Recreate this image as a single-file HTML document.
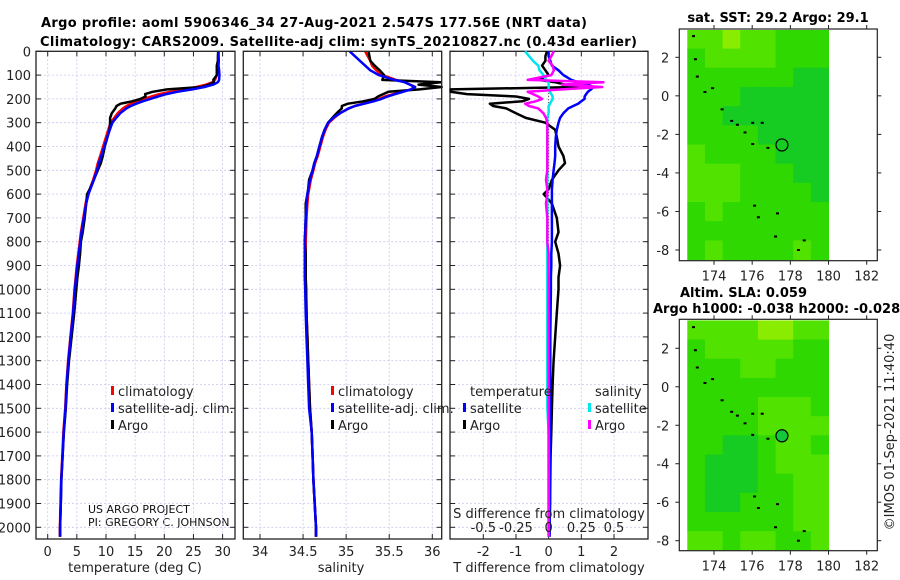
<!DOCTYPE html>
<html><head><meta charset="utf-8"><style>
html,body{margin:0;padding:0;background:#fff}
svg{display:block;font-family:"DejaVu Sans","Liberation Sans",sans-serif}
</style></head><body>
<svg id="chart" width="900" height="580" viewBox="0 0 900 580">
<g id="titles">
<text x="41" y="27" font-size="13" font-weight="bold" textLength="546">Argo profile: aoml 5906346_34 27-Aug-2021 2.547S 177.56E (NRT data)</text>
<text x="40" y="46" font-size="13" font-weight="bold" textLength="597">Climatology: CARS2009. Satellite-adj clim: synTS_20210827.nc (0.43d earlier)</text>
<text x="778" y="22" font-size="13" font-weight="bold" text-anchor="middle">sat. SST: 29.2 Argo: 29.1</text>
<text x="680" y="297" font-size="13" font-weight="bold">Altim. SLA: 0.059</text>
<text x="653" y="313" font-size="13" font-weight="bold">Argo h1000: -0.038 h2000: -0.028</text>
<text transform="translate(894,432) rotate(-90)" font-size="13" text-anchor="middle" fill="#222">©IMOS 01-Sep-2021 11:40:40</text>
<text x="88" y="513" font-size="11" fill="#111">US ARGO PROJECT</text>
<text x="88" y="526" font-size="11" fill="#111">PI: GREGORY C. JOHNSON</text>
</g>
<g id="plots"></g>
</svg>
<script>
const depth=[0,20,40,60,80,100,120,130,140,150,160,170,180,190,200,210,220,230,240,260,280,300,330,360,400,440,470,500,540,580,600,640,700,760,800,850,900,950,1000,1100,1200,1300,1400,1500,1600,1700,1800,1900,2000,2040];
const climT=[29.3,29.3,29.3,29.2,29.1,29.0,28.7,28.3,27.2,25.5,23.5,21,19.2,17.8,16.5,15.3,14.3,13.5,12.9,12.0,11.4,10.8,10.4,10.0,9.5,9.0,8.6,8.3,7.8,7.2,6.9,6.5,6.1,5.7,5.5,5.25,5.0,4.8,4.6,4.3,3.9,3.5,3.2,3.0,2.7,2.5,2.3,2.2,2.1,2.1];
const dTsat=[0,0,0.05,0.1,0.3,0.45,0.7,0.9,1.2,1.37,1.3,1.2,1.15,1.1,1.1,1.0,0.9,0.75,0.6,0.45,0.35,0.3,0.25,0.22,0.2,0.2,0.18,0.15,0.12,0.1,0.1,0.1,0.1,0.1,0.1,0.08,0.08,0.07,0.07,0.06,0.05,0.05,0.05,0.05,0.05,0.05,0.04,0.04,0.03,0.03];
const dTargo=[-0.05,-0.1,-0.1,-0.2,-0.1,0,-0.3,0.2,0.5,0.9,-3.0,-3.0,-2.5,-1.0,-0.6,-0.8,-1.8,-1.7,-1.3,-1.0,-0.7,-0.1,0.2,0.25,0.3,0.45,0.5,0.3,0.1,0.0,-0.15,0.1,0.25,0.3,0.2,0.3,0.35,0.3,0.3,0.25,0.2,0.15,0.12,0.1,0.08,0.06,0.05,0.04,0.03,0.02];
const climS=[35.22,35.25,35.28,35.3,35.35,35.42,35.58,35.68,35.74,35.8,35.75,35.65,35.55,35.45,35.38,35.3,35.2,35.1,35.03,34.93,34.86,34.8,34.76,34.73,34.7,34.67,34.64,34.62,34.59,34.57,34.56,34.55,34.54,34.535,34.53,34.53,34.53,34.53,34.535,34.54,34.55,34.56,34.57,34.58,34.6,34.61,34.62,34.635,34.65,34.65];
const dSsat=[-0.18,-0.15,-0.12,-0.08,-0.07,-0.04,-0.02,0,0,0,0,0.01,0.02,0.03,0.03,0.02,0.01,0,0,0,-0.01,-0.01,-0.01,-0.01,-0.01,-0.01,-0.01,-0.01,-0.01,-0.01,-0.01,-0.01,-0.01,-0.01,-0.01,-0.01,-0.01,-0.01,-0.01,-0.01,-0.01,-0.01,-0.01,-0.01,0,0,0,0,0,0];
const dSargo=[0.04,0.02,0,0.03,0.04,0.02,-0.16,0.42,0.1,0.41,0.1,-0.16,-0.12,-0.08,-0.05,-0.1,-0.18,-0.15,-0.08,-0.04,-0.02,-0.01,-0.01,-0.01,-0.01,-0.01,-0.01,-0.01,-0.02,-0.01,-0.01,-0.02,-0.01,-0.01,-0.01,0,0,0,0,0,0,0,0,0,0,0,0,0,0,0];
const depthTicks=[0,100,200,300,400,500,600,700,800,900,1000,1100,1200,1300,1400,1500,1600,1700,1800,1900,2000];
const tempTicks=[0,5,10,15,20,25,30];
const salTicks=[34,34.5,35,35.5,36];
const salTickLabels=["34","34.5","35","35.5","36"];
const tdiffTicks=[-2,-1,0,1,2];
const tdiffLabels=["-2","-1","0","1","2"];
const sdiffTicks=[-0.5,-0.25,0,0.25,0.5];
const sdiffLabels=["-0.5","-0.25","0","0.25","0.5"];
const lonTicks=[174,176,178,180,182];
const latTicks=[2,0,-2,-4,-6,-8];
const sstCells=[[2,2,3,2,2,1,1,1],[1,2,2,2,2,1,1,1],[1,1,1,1,1,1,0,0],[1,1,1,0,0,0,0,0],[1,1,0,0,0,0,0,0],[1,1,1,1,0,0,0,0],[2,1,1,1,1,0,0,0],[2,2,2,1,1,1,0,0],[2,2,2,1,1,1,1,0],[1,2,1,1,1,1,1,1],[1,1,1,1,1,1,1,1],[1,2,1,1,1,1,2,1]];
const slaCells=[[2,2,2,2,3,3,2,2],[1,2,2,2,2,2,1,1],[1,1,1,2,2,1,1,1],[1,1,1,1,1,1,1,1],[1,1,1,1,2,2,2,1],[1,1,1,1,2,2,2,2],[1,1,0,0,1,2,2,1],[1,0,0,0,1,2,2,2],[1,0,0,0,1,1,2,2],[1,0,0,1,1,1,2,2],[1,1,1,1,1,1,2,2],[2,2,1,2,2,1,1,2]];
const islandLon=[172.9,173.0,173.1,173.5,173.9,174.4,174.9,175.2,175.6,176.0,176.5,176.0,176.8,176.1,176.3,177.3,177.2,178.7,178.4];
const islandLat=[3.1,1.9,1.0,0.2,0.4,-0.7,-1.3,-1.5,-1.9,-1.4,-1.4,-2.5,-2.7,-5.7,-6.3,-6.1,-7.3,-7.5,-8.0];
const argoLon=177.56, argoLat=-2.547;
const palette=["#16cc22","#2ed800","#52e200","#8aec00"];

const NS="http://www.w3.org/2000/svg";
const root=document.getElementById('plots');
function el(tag,attrs,parent){const e=document.createElementNS(NS,tag);for(const k in attrs)e.setAttribute(k,attrs[k]);(parent||root).appendChild(e);return e;}
const Y0=51.3,YS=0.238,PT=51.3,PB=539;
const yD=d=>Y0+d*YS;
function lin(d0,d1,r0,r1){return v=>r0+(v-d0)*(r1-r0)/(d1-d0);}

function panel(name,x0,x1,xs,ticks,labels,vals,showDepth){
  const g=el('g',{});
  
  
  depthTicks.forEach(d=>{const l=el('line',{x1:x0,x2:x1,y1:yD(d),y2:yD(d),stroke:'#c8c8f0','stroke-width':0.8,'stroke-dasharray':'2,2'},g);
    
    el('line',{x1:x0,x2:x0+5,y1:yD(d),y2:yD(d),stroke:'#222'},g);el('line',{x1:x1-5,x2:x1,y1:yD(d),y2:yD(d),stroke:'#222'},g);
    if(showDepth){const t=el('text',{x:x0-5,y:yD(d)+5,'font-size':13,'text-anchor':'end',fill:'#222'},g);t.textContent=d;
      }
  });
  ticks.forEach((v,i)=>{const x=xs(v);const l=el('line',{x1:x,x2:x,y1:PT,y2:PB,stroke:'#c8c8f0','stroke-width':0.8,'stroke-dasharray':'2,2'},g);
    
    el('line',{x1:x,x2:x,y1:PB-5,y2:PB,stroke:'#222'},g);el('line',{x1:x,x2:x,y1:PT,y2:PT+5,stroke:'#222'},g);
    const t=el('text',{x:x,y:556,'font-size':13,'text-anchor':'middle',fill:'#222'},g);t.textContent=labels[i];
    
  });
  vals.forEach(s=>{
    const pts=depth.map((d,i)=>xs(s.v[i]).toFixed(1)+','+yD(d).toFixed(1)).join(' ');
    const p=el('polyline',{points:pts,fill:'none',stroke:s.c,'stroke-width':s.w||2.5,'stroke-linejoin':'round'},g);
    
  });
  const r=el('rect',{x:x0,y:PT,width:x1-x0,height:PB-PT,fill:'none',stroke:'#222','stroke-width':1.3},g);
  
  return g;
}
const xT=lin(0,30,47.7,222.6);
const argoT=climT.map((v,i)=>v+dTargo[i]), satT=climT.map((v,i)=>v+dTsat[i]);
const argoS=climS.map((v,i)=>v+dSargo[i]), satS=climS.map((v,i)=>v+dSsat[i]);
panel('temperature-panel',36,235,xT,tempTicks,tempTicks.map(String),[{v:climT,c:'#ff0000',n:'temp-climatology-line'},{v:argoT,c:'#000',n:'temp-argo-line'},{v:satT,c:'#0000ff',n:'temp-satellite-line'}],true);
const xS=lin(34,36,260,432.3);
panel('salinity-panel',243.3,441.7,v=>Math.min(441.7,Math.max(243.3,xS(v))),salTicks,salTickLabels,[{v:climS,c:'#ff0000',n:'sal-climatology-line'},{v:argoS,c:'#000',n:'sal-argo-line'},{v:satS,c:'#0000ff',n:'sal-satellite-line'}],false);
const xTd=lin(-2,2,483.3,614);
const xSd=v=>xTd(v*4);
const clampD=v=>Math.min(648,Math.max(450,v));
const g3=panel('difference-panel',450,648,v=>clampD(xTd(v)),tdiffTicks,tdiffLabels,[],false);
const zl=el('line',{x1:xTd(0),x2:xTd(0),y1:yD(150),y2:yD(800),stroke:'#555','stroke-width':1,'stroke-dasharray':'1,2'},g3);

[{v:dTargo,c:'#000',n:'tdiff-argo-line',f:xTd},{v:dTsat,c:'#0000ff',n:'tdiff-satellite-line',f:xTd},{v:dSsat,c:'#00e5ee',n:'sdiff-satellite-line',f:xSd},{v:dSargo,c:'#ff00ff',n:'sdiff-argo-line',f:xSd}].forEach(s=>{
  const pts=depth.map((d,i)=>clampD(s.f(s.v[i])).toFixed(1)+','+yD(d).toFixed(1)).join(' ');
  const p=el('polyline',{points:pts,fill:'none',stroke:s.c,'stroke-width':2.5,'stroke-linejoin':'round'},g3);
  
});
sdiffTicks.forEach((v,i)=>{const t=el('text',{x:xSd(v),y:532,'font-size':13,'text-anchor':'middle',fill:'#222'},g3);t.textContent=sdiffLabels[i];
  });
function txt(x,y,s,name,opts){const t=el('text',Object.assign({x:x,y:y,'font-size':13,fill:'#222'},opts||{}));t.textContent=s;return t;}
txt(549,518,'S difference from climatology','sdiff-axis-title',{'text-anchor':'middle','font-size':13});
txt(135,572,'temperature (deg C)','temp-axis-title',{'text-anchor':'middle'});
txt(341,572,'salinity','sal-axis-title',{'text-anchor':'middle'});
txt(549,572,'T difference from climatology','tdiff-axis-title',{'text-anchor':'middle'});
function legend(x,y,c,s,name){const r=el('rect',{x:x,y:y-10,width:3,height:9,fill:c});txt(x+7,y,s,name);}
legend(111,396,'#ff0000','climatology','legend-temp-climatology');
legend(111,413,'#0000ff','satellite-adj. clim.','legend-temp-satellite');
legend(111,430,'#000','Argo','legend-temp-argo');
legend(331,396,'#ff0000','climatology','legend-sal-climatology');
legend(331,413,'#0000ff','satellite-adj. clim.','legend-sal-satellite');
legend(331,430,'#000','Argo','legend-sal-argo');
txt(470,396,'temperature','legend-temperature-header');
txt(595,396,'salinity','legend-salinity-header');
legend(463,413,'#0000ff','satellite','legend-tdiff-satellite');
legend(463,430,'#000','Argo','legend-tdiff-argo');
legend(588,413,'#00e5ee','satellite','legend-sdiff-satellite');
legend(588,430,'#ff00ff','Argo','legend-sdiff-argo');

function map(name,top,bot,lat2y,latm8y,cells,filled){
  const g=el('g',{});
  const x0=679.3,x1=877.3;
  const xL=lin(174,182,714,866.7), yL=lin(2,-8,lat2y,latm8y);
  const latTop=3.45, latBot=-8.5, lonL=172.6, lonR=180;
  const nr=cells.length,nc=cells[0].length;
  cells.forEach((row,r)=>row.forEach((v,c)=>{
    const la0=latTop-(latTop-latBot)*r/nr, la1=latTop-(latTop-latBot)*(r+1)/nr;
    const lo0=lonL+(lonR-lonL)*c/nc, lo1=lonL+(lonR-lonL)*(c+1)/nc;
    const xa=Math.max(681,xL(lo0)),ya=Math.max(top+1,yL(la0));
    const rc=el('rect',{x:xa,y:ya,width:xL(lo1)-xa+0.5,height:Math.min(bot-1,yL(la1))-ya+0.5,fill:palette[v]},g);
    
  }));
  islandLon.forEach((lo,i)=>{const d=el('rect',{x:xL(lo)-1,y:yL(islandLat[i])-1,width:3,height:2,fill:'#000'},g);});
  const c=el('circle',{cx:xL(argoLon),cy:yL(argoLat),r:6,fill:filled?'#14c83c':'none',stroke:'#000','stroke-width':1.2},g);
  
  const fr=el('rect',{x:x0,y:top,width:x1-x0,height:bot-top,fill:'none',stroke:'#222','stroke-width':1.2},g);
  
  lonTicks.forEach(lo=>{const x=xL(lo);el('line',{x1:x,x2:x,y1:bot,y2:bot+4,stroke:'#222'},g);el('line',{x1:x,x2:x,y1:top,y2:top-4,stroke:'#222'},g);
    const t=el('text',{x:x,y:bot+20,'font-size':13,'text-anchor':'middle',fill:'#222'},g);t.textContent=lo;});
  latTicks.forEach(la=>{const y=yL(la);el('line',{x1:x0-4,x2:x0,y1:y,y2:y,stroke:'#222'},g);el('line',{x1:x1,x2:x1+4,y1:y,y2:y,stroke:'#222'},g);
    const t=el('text',{x:x0-10,y:y+5,'font-size':13,'text-anchor':'end',fill:'#222'},g);t.textContent=la;});
}
map('sst-map',29,260.7,57.3,250,sstCells,false);
map('sla-map',319.3,550.7,348.3,540.7,slaCells,true);
</script>
</body></html>
